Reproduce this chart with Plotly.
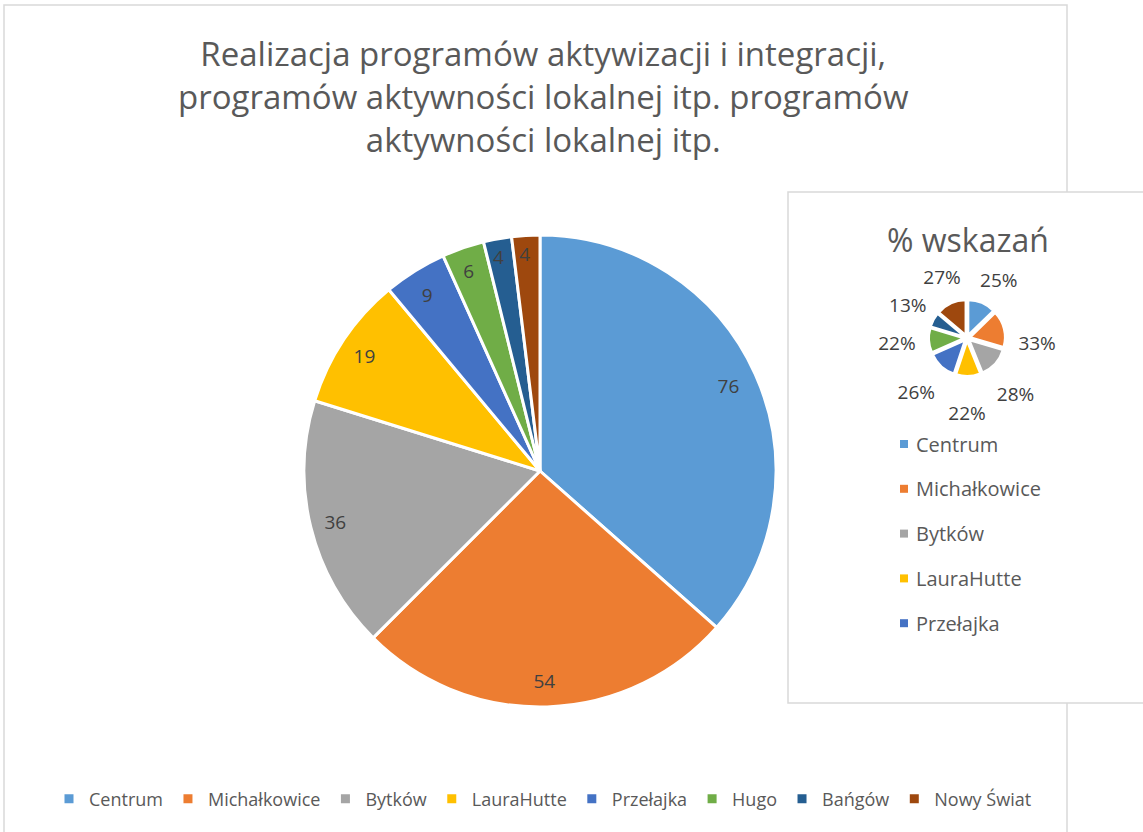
import plotly.graph_objects as go

categories = ["Centrum", "Michałkowice", "Bytków", "LauraHutte", "Przełajka", "Hugo", "Bańgów", "Nowy Świat"]
counts = [76, 54, 36, 19, 9, 6, 4, 4]
percents = [25, 33, 28, 22, 26, 22, 13, 27]
colors = ["#5B9BD5", "#ED7D31", "#A5A5A5", "#FFC000", "#4472C4", "#70AD47", "#255E91", "#9E480E"]
inset_legend_count = 5

title_text = ("Realizacja programów aktywizacji i integracji,<br>"
              "programów aktywności lokalnej itp. programów<br>"
              "aktywności lokalnej itp.")
inset_title = "% wskazań"

W, H = 1143, 832
FONT = "Open Sans"
LABEL = "#404040"
TRANSP = ["rgba(0,0,0,0)"] * len(categories)


def dom(cx, cy, r):
    return dict(x=[(cx - r) / W, (cx + r) / W], y=[(H - cy - r) / H, (H - cy + r) / H])


fig = go.Figure()

# main pie
fig.add_trace(go.Pie(
    labels=categories, values=counts, sort=False, direction="clockwise", rotation=0,
    marker=dict(colors=colors, line=dict(color="white", width=3)),
    textinfo="none", domain=dom(540, 471, 236),
    hoverinfo="label+value", showlegend=True,
))
# main pie value labels (transparent ring so labels sit near the rim)
fig.add_trace(go.Pie(
    labels=categories, values=counts, sort=False, direction="clockwise", rotation=0,
    hole=0.8, marker=dict(colors=TRANSP, line=dict(width=0)),
    textinfo="value", textposition="inside", insidetextorientation="horizontal",
    textfont=dict(family=FONT, size=19, color=LABEL),
    domain=dom(538, 472, 232), hoverinfo="skip", showlegend=False,
))

# inset pie
fig.add_trace(go.Pie(
    labels=categories, values=percents, sort=False, direction="clockwise", rotation=0,
    marker=dict(colors=colors, line=dict(color="white", width=2)),
    textinfo="none", pull=0.1, domain=dom(967, 338, 38),
    hoverinfo="label+value", showlegend=False,
))
# inset pie percentage labels
fig.add_trace(go.Pie(
    labels=categories, values=percents, sort=False, direction="clockwise", rotation=4,
    hole=0.8, marker=dict(colors=TRANSP, line=dict(width=0)),
    texttemplate="%{value}%", textposition="inside", insidetextorientation="horizontal",
    textfont=dict(family=FONT, size=19, color=LABEL),
    domain=dom(967, 343, 78), hoverinfo="skip", showlegend=False,
))

shapes = [
    dict(type="rect", xref="paper", yref="paper", x0=4 / W, x1=1067 / W, y0=-0.02, y1=(H - 5) / H,
         line=dict(color="#D9D9D9", width=1.5), fillcolor="rgba(0,0,0,0)", layer="below"),
    dict(type="rect", xref="paper", yref="paper", x0=788 / W, x1=1.02, y0=(H - 703) / H, y1=(H - 192) / H,
         line=dict(color="#D9D9D9", width=1.5), fillcolor="white", layer="below"),
]
annotations = [
    dict(text=title_text, x=543 / W, y=(H - 96) / H, xref="paper", yref="paper", showarrow=False,
         xanchor="center", yanchor="middle", align="center",
         font=dict(family=FONT, size=33, color="#595959")),
    dict(text=inset_title, x=968 / W, y=(H - 240) / H, xref="paper", yref="paper", showarrow=False,
         xanchor="center", yanchor="middle", font=dict(family=FONT, size=32, color="#595959")),
]
for i in range(inset_legend_count):
    yc = 444 + i * 44.8
    shapes.append(dict(type="rect", xref="paper", yref="paper",
                       x0=900 / W, x1=908 / W, y0=(H - yc - 4) / H, y1=(H - yc + 4) / H,
                       line=dict(width=0), fillcolor=colors[i]))
    annotations.append(dict(text=categories[i], x=914 / W, y=(H - yc) / H, xref="paper", yref="paper",
                            showarrow=False, xanchor="left", yanchor="middle",
                            font=dict(family=FONT, size=20, color="#595959")))

fig.update_layout(
    width=W, height=H, margin=dict(l=0, r=0, t=0, b=0),
    paper_bgcolor="white", plot_bgcolor="white",
    shapes=shapes, annotations=annotations,
    uniformtext=dict(minsize=19, mode="show"),
    legend=dict(orientation="h", x=543 / W, xanchor="center", y=(H - 799) / H, yanchor="middle",
                font=dict(family=FONT, size=18, color="#595959"), itemwidth=30,
                traceorder="normal", bgcolor="rgba(0,0,0,0)"),
)

fig.write_html("out.html", config={"displayModeBar": False},
               post_script="document.body.style.margin='0';")
